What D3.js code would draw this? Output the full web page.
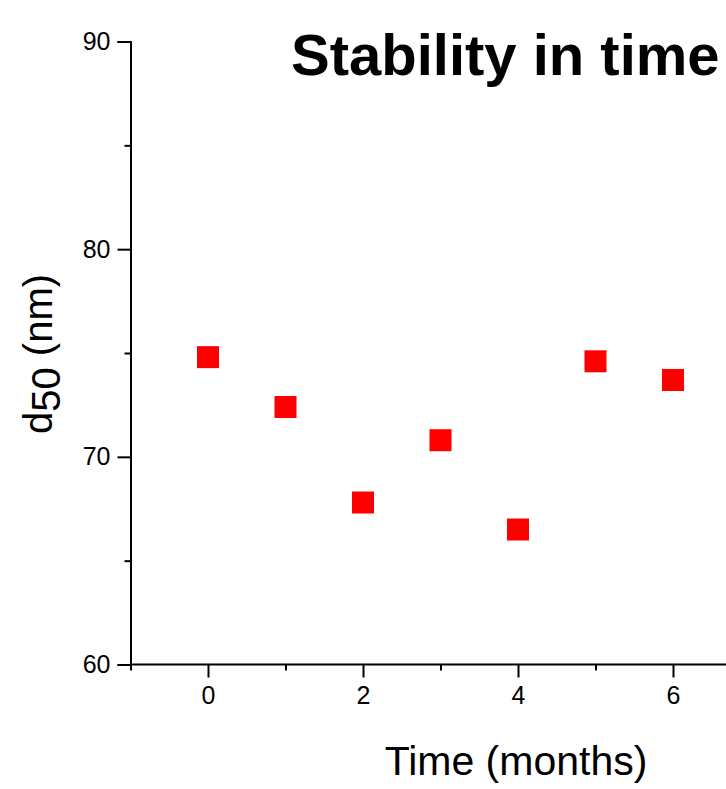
<!DOCTYPE html>
<html lang="en">
<head>
<meta charset="utf-8">
<script src="https://d3js.org/d3.v7.min.js"></script>
<style>
  * { margin: 0; padding: 0; }
  body { background: #fff; }
  svg { display: block; font-family: "Liberation Sans", Arial, sans-serif; }
  .axis path, .axis line { stroke: #000; stroke-width: 2; }
</style>
</head>
<body>
<script>
// data
const months = [0, 1, 2, 3, 4, 5, 6];
const d50 = [74.8, 72.4, 67.8, 70.8, 66.5, 74.6, 73.7];
const xTicks = [0, 2, 4, 6];
const xMinor = [-1, 1, 3, 5, 7];
const yTicks = [60, 70, 80, 90];
const yMinor = [65, 75, 85];

const width = 726, height = 789;
const font = '"Liberation Sans", Arial, sans-serif';
const svg = d3.select('body').append('svg')
  .attr('width', width).attr('height', height);

const x = d3.scaleLinear().domain([-1, 7]).range([130.5, 750.5]);
const y = d3.scaleLinear().domain([60, 90]).range([664.5, 41.5]);

// x axis (line runs past the right edge)
svg.append('line')
  .attr('x1', x(-1)).attr('x2', x(7) + 40)
  .attr('y1', y(60)).attr('y2', y(60))
  .attr('stroke', '#000').attr('stroke-width', 2);
svg.append('g').attr('class', 'axis')
  .attr('transform', `translate(0,${y(60)})`)
  .call(d3.axisBottom(x).tickValues(xMinor).tickSize(6).tickFormat(''))
  .call(g => g.select('.domain').remove());
svg.append('g').attr('class', 'axis')
  .attr('transform', `translate(0,${y(60)})`)
  .call(d3.axisBottom(x).tickValues(xTicks).tickSize(13).tickPadding(9).tickFormat(d3.format('d')))
  .call(g => g.select('.domain').remove())
  .call(g => g.selectAll('text').attr('font-size', 25).attr('fill', '#000').attr('font-family', font));

// y axis
svg.append('g').attr('class', 'axis')
  .attr('transform', `translate(${x(-1)},0)`)
  .call(d3.axisLeft(y).tickValues(yMinor).tickSize(6).tickFormat(''))
  .call(g => g.select('.domain').remove());
svg.append('g').attr('class', 'axis')
  .attr('transform', `translate(${x(-1)},0)`)
  .call(d3.axisLeft(y).tickValues(yTicks).tickSizeOuter(0).tickSize(13).tickPadding(7).tickFormat(d3.format('d')))
  .call(g => g.selectAll('text').attr('font-size', 25).attr('fill', '#000').attr('font-family', font));

// points
const sz = 22;
svg.append('g').selectAll('rect')
  .data(months.map((m, i) => ({m, v: d50[i]})))
  .join('rect')
  .attr('x', d => x(d.m) - sz / 2)
  .attr('y', d => y(d.v) - sz / 2)
  .attr('width', sz).attr('height', sz)
  .attr('fill', '#ff0000');

// title
svg.append('text')
  .attr('x', 291).attr('y', 75)
  .attr('font-size', 58).attr('font-weight', 'bold')
  .text('Stability in time');

// x label
svg.append('text')
  .attr('x', 516).attr('y', 775)
  .attr('text-anchor', 'middle')
  .attr('font-size', 41)
  .text('Time (months)');

// y label
const yl = svg.append('text')
  .attr('transform', 'translate(52,354) rotate(-90)')
  .attr('text-anchor', 'middle')
  .attr('font-size', 40);
yl.append('tspan').text('d');
yl.append('tspan').attr('dy', 8).text('50');
yl.append('tspan').attr('dy', -8).text(' (nm)');
</script>
</body>
</html>
